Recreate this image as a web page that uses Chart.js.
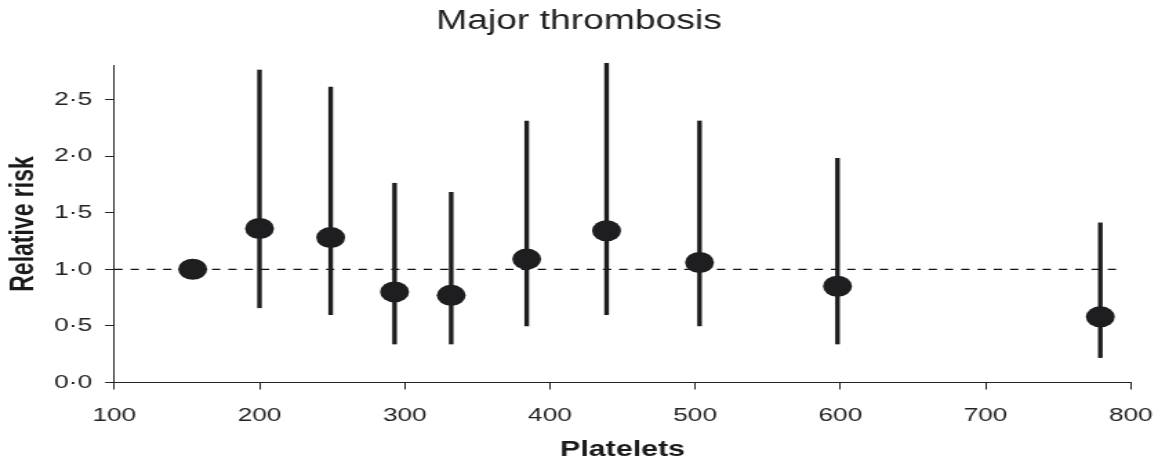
<!DOCTYPE html>
<html>
<head>
<meta charset="utf-8">
<script src="https://cdn.jsdelivr.net/npm/chart.js@4/dist/chart.umd.min.js"></script>
<style>
  body { margin: 0; background: #fff; }
</style>
</head>
<body>
<!-- the source figure is stretched sideways, so draw narrow and widen with css -->
<canvas id="myChart" width="839" height="466" style="width:1158px;height:466px;display:block"></canvas>
<script>
const platelets = [154, 200, 249, 293, 332, 384, 439, 503, 598, 779];
const relRisk = [1.0, 1.36, 1.28, 0.80, 0.77, 1.09, 1.34, 1.06, 0.85, 0.58];
const ciLow = [null, 0.66, 0.60, 0.34, 0.34, 0.50, 0.60, 0.50, 0.34, 0.22];
const ciHigh = [null, 2.76, 2.61, 1.76, 1.68, 2.31, 2.82, 2.31, 1.98, 1.41];
const refLineX = [100, 791];
const refValue = 1;
const xTicks = [100, 200, 300, 400, 500, 600, 700, 800];
const yTicks = [0, 0.5, 1, 1.5, 2, 2.5];

const ctx = document.getElementById('myChart');
const ink = '#1e1e20';
const font = 'Liberation Sans';

var points = [];
var ranges = [];
for (var i = 0; i < platelets.length; i++) {
    points.push({ x: platelets[i], y: relRisk[i] });
    if (ciLow[i] !== null) {
        ranges.push({ x: platelets[i], y: [ciLow[i], ciHigh[i]] });
    }
}

var refLine = [];
for (var i = 0; i < refLineX.length; i++) {
    refLine.push({ x: refLineX[i], y: refValue });
}

new Chart(ctx, {
    type: 'bar',
    data: {
        datasets: [{
            type: 'scatter',
            label: 'Relative risk',
            data: points,
            backgroundColor: ink,
            borderWidth: 0,
            pointRadius: 10.5,
            pointHoverRadius: 10.5,
            order: 0
        }, {
            type: 'bar',
            label: '95% CI',
            data: ranges,
            backgroundColor: ink,
            borderWidth: 0,
            barThickness: 2.7,
            clip: false,
            order: 1
        }, {
            type: 'line',
            label: 'reference',
            data: refLine,
            borderColor: '#111',
            borderWidth: 1.2,
            borderDash: [6, 5.8],
            pointRadius: 0,
            fill: false,
            order: 2
        }]
    },
    options: {
        responsive: false,
        devicePixelRatio: 1,
        animation: false,
        events: [],
        layout: {
            padding: 0
        },
        plugins: {
            legend: { display: false },
            tooltip: { enabled: false },
            title: {
                display: true,
                text: 'Major thrombosis',
                color: '#222',
                font: { family: font, size: 27, weight: 'normal' },
                padding: { top: 5.5, bottom: 27.6 }
            }
        },
        scales: {
            x: {
                type: 'linear',
                min: 100,
                max: 800,
                offset: false,
                afterBuildTicks: function (scale) {
                    scale.ticks = xTicks.map(v => ({ value: v }));
                },
                afterFit: function (scale) {
                    scale.height = 83.5;
                },
                grid: {
                    offset: false,
                    drawOnChartArea: false,
                    drawTicks: true,
                    tickLength: 7,
                    tickColor: '#222',
                    tickWidth: 1
                },
                border: { display: true, color: '#222', width: 1 },
                ticks: {
                    color: '#222',
                    padding: 3.85,
                    maxRotation: 0,
                    autoSkip: false,
                    font: { family: font, size: 19, lineHeight: 2.36 }
                },
                title: {
                    display: true,
                    text: 'Platelets',
                    color: '#1a1a1a',
                    font: { family: font, size: 22, weight: 'bold' },
                    padding: { top: 0, bottom: 3 }
                }
            },
            y: {
                min: 0,
                max: 2.8,
                afterBuildTicks: function (scale) {
                    scale.ticks = yTicks.map(v => ({ value: v }));
                },
                afterFit: function (scale) {
                    scale.width = 82.8;
                },
                grid: {
                    drawOnChartArea: false,
                    drawTicks: true,
                    tickLength: 6.7,
                    tickColor: '#222',
                    tickWidth: 1
                },
                border: { display: true, color: '#222', width: 1 },
                ticks: {
                    color: '#222',
                    padding: 9.4,
                    font: { family: font, size: 19 },
                    callback: function (value) {
                        return value.toFixed(1).replace('.', '\u00B7');
                    }
                },
                title: {
                    display: true,
                    text: 'Relative risk',
                    color: '#1a1a1a',
                    font: { family: font, size: 23, weight: 'bold' },
                    padding: { top: 4.3, bottom: 0 }
                }
            }
        }
    }
});
</script>
</body>
</html>
